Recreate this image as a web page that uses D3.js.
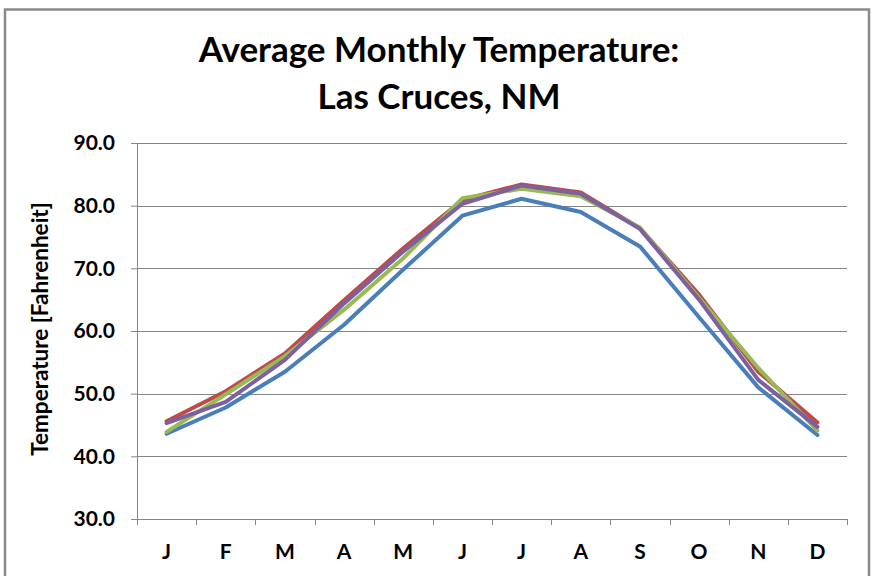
<!DOCTYPE html>
<html>
<head>
<meta charset="utf-8">
<script src="https://cdn.jsdelivr.net/npm/d3@7"></script>
<style>
  body { margin: 0; background: #fff; }
  text { font-family: Lato, "Open Sans", sans-serif; font-weight: bold; fill: #000; }
</style>
</head>
<body>
<div id="chart"></div>
<script>
// months along the x axis
var months = ["J", "F", "M", "A", "M", "J", "J", "A", "S", "O", "N", "D"];
// y axis tick values
var yTicks = [30, 40, 50, 60, 70, 80, 90];

// four series
var blueSeries   = [43.6, 47.8, 53.5, 61.0, 69.8, 78.4, 81.1, 79.0, 73.5, 62.2, 51.0, 43.4];
var redSeries    = [45.6, 50.4, 56.4, 64.9, 73.2, 80.9, 83.4, 82.1, 76.4, 65.8, 53.5, 45.4];
var greenSeries  = [43.9, 49.9, 56.0, 63.4, 71.6, 81.2, 82.7, 81.5, 76.5, 65.3, 54.1, 44.1];
var purpleSeries = [45.3, 48.7, 55.4, 64.4, 72.7, 80.3, 83.2, 81.9, 76.3, 65.0, 52.2, 44.7];

var series = [
  { values: blueSeries, color: "#4a7ebb" },
  { values: redSeries, color: "#be4b48" },
  { values: greenSeries, color: "#98b954" },
  { values: purpleSeries, color: "#7d60a0" }
];

var svgWidth = 873;
var svgHeight = 576;

var margin = { top: 143, right: 26, bottom: 57, left: 137 };
var width = svgWidth - margin.left - margin.right;
var height = svgHeight - margin.top - margin.bottom;

var svg = d3.select("#chart")
  .append("svg")
  .attr("width", svgWidth)
  .attr("height", svgHeight);

// outer chart border
svg.append("rect")
  .attr("x", 5)
  .attr("y", 9.5)
  .attr("width", 864)
  .attr("height", 590)
  .attr("fill", "none")
  .attr("stroke", "#8a8a8a")
  .attr("stroke-width", 2.5);

// title
var title = svg.append("text")
  .attr("x", 439)
  .attr("text-anchor", "middle")
  .style("font-size", "35px");
title.append("tspan").attr("x", 439).attr("y", 62).text("Average Monthly Temperature:");
title.append("tspan").attr("x", 439).attr("y", 109).text("Las Cruces, NM");

var chartGroup = svg.append("g")
  .attr("transform", `translate(${margin.left}, ${margin.top})`);

var xScale = d3.scaleBand()
  .domain(d3.range(months.length))
  .range([0, width]);

var yScale = d3.scaleLinear()
  .domain([30, 90])
  .range([height, 0]);

// gridlines
chartGroup.append("g")
  .selectAll("line")
  .data(yTicks.slice(1))
  .enter()
  .append("line")
  .attr("x1", 0)
  .attr("x2", width)
  .attr("y1", d => Math.round(yScale(d)) + 0.5)
  .attr("y2", d => Math.round(yScale(d)) + 0.5)
  .attr("stroke", "#868686")
  .attr("stroke-width", 1);

// y axis
var leftAxis = d3.axisLeft(yScale)
  .tickValues(yTicks)
  .tickSize(6)
  .tickPadding(16)
  .tickFormat(d3.format(".1f"));

var yAxis = chartGroup.append("g").call(leftAxis);
yAxis.select(".domain").attr("stroke", "#868686");
yAxis.selectAll(".tick line").attr("stroke", "#868686");
yAxis.selectAll(".tick text")
  .style("font-size", "21px")
  .style("font-family", "Lato, sans-serif");

// x axis
var bottomAxis = d3.axisBottom(xScale)
  .tickSize(0)
  .tickPadding(25)
  .tickFormat(i => months[i]);

var xAxis = chartGroup.append("g")
  .attr("transform", `translate(0, ${height})`)
  .call(bottomAxis);
xAxis.select(".domain").attr("stroke", "#868686");
xAxis.selectAll(".tick text")
  .style("font-size", "21px")
  .style("font-family", "Lato, sans-serif");

// x tick marks at category boundaries
xAxis.append("g")
  .selectAll("line")
  .data(d3.range(months.length + 1))
  .enter()
  .append("line")
  .attr("x1", i => Math.round(i * xScale.step()) + 0.5)
  .attr("x2", i => Math.round(i * xScale.step()) + 0.5)
  .attr("y1", 0)
  .attr("y2", 6)
  .attr("stroke", "#868686");

// lines
var line = d3.line()
  .x((d, i) => xScale(i) + xScale.bandwidth() / 2)
  .y(d => yScale(d));

chartGroup.selectAll(".series")
  .data(series)
  .enter()
  .append("path")
  .attr("class", "series")
  .attr("d", d => line(d.values))
  .attr("fill", "none")
  .attr("stroke", d => d.color)
  .attr("stroke-width", 4)
  .attr("stroke-linejoin", "round")
  .attr("stroke-linecap", "round");

// y axis title
svg.append("text")
  .attr("transform", "translate(48, 329) rotate(-90)")
  .attr("text-anchor", "middle")
  .style("font-size", "22.5px")
  .text("Temperature [Fahrenheit]");
</script>
</body>
</html>
